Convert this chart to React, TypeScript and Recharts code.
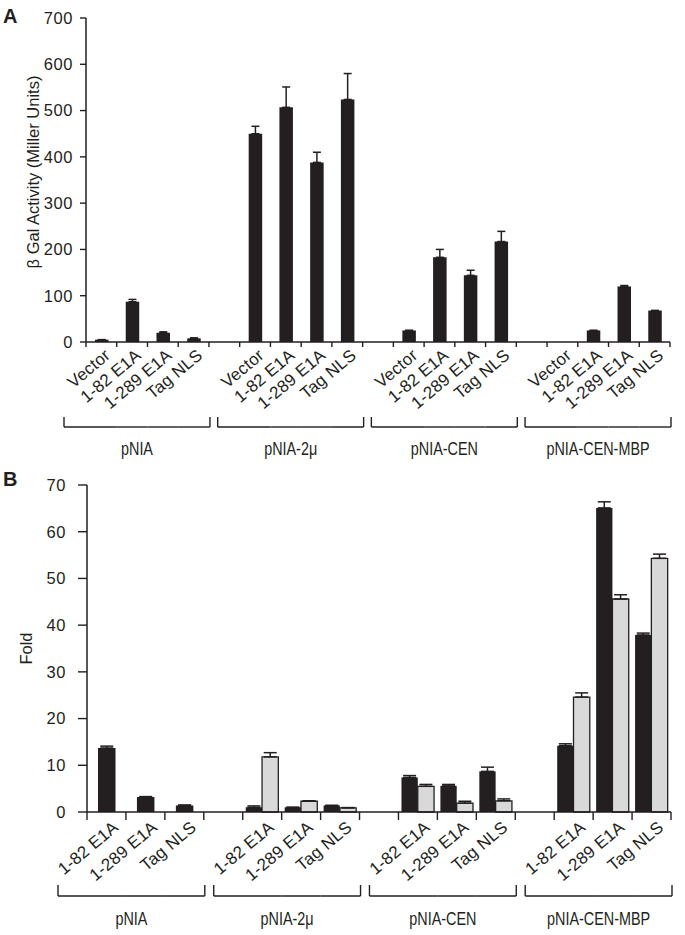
import React from 'react';
import { BarChart, Bar, XAxis, YAxis, ErrorBar } from 'recharts';

// ---------- data ----------
const GROUPS = ['pNIA', 'pNIA-2μ', 'pNIA-CEN', 'pNIA-CEN-MBP'];
const A_CONSTRUCTS = ['Vector', '1-82 E1A', '1-289 E1A', 'Tag NLS'];
const B_CONSTRUCTS = ['1-82 E1A', '1-289 E1A', 'Tag NLS'];
const A_TICKS = [0, 100, 200, 300, 400, 500, 600, 700];
const B_TICKS = [0, 10, 20, 30, 40, 50, 60, 70];

// Panel A: beta-Gal activity (Miller units), per group, per construct
const A_VALUES = [
  [5, 87, 20, 8],
  [450, 507, 388, 524],
  [25, 183, 144, 217],
  [0, 25, 120, 68],
];
const A_ERRORS = [
  [0, 5, 2, 1],
  [16, 44, 22, 56],
  [0, 17, 11, 22],
  [0, 0, 2, 0],
];

// Panel B: fold activation (black and grey series)
const B_BLACK = [
  [13.7, 3.2, 1.4],
  [1.0, 1.0, 1.4],
  [7.4, 5.6, 8.7],
  [14.2, 65.1, 37.9],
];
const B_BLACK_ERR = [
  [0.4, 0.1, 0.1],
  [0.3, 0, 0],
  [0.4, 0.3, 0.9],
  [0.4, 1.3, 0.4],
];
const B_GRAY: (number | null)[][] = [
  [null, null, null],
  [11.8, 2.3, 0.9],
  [5.5, 1.9, 2.4],
  [24.6, 45.6, 54.3],
];
const B_GRAY_ERR: (number | null)[][] = [
  [null, null, null],
  [0.9, 0.1, 0.05],
  [0.4, 0.4, 0.4],
  [0.9, 0.9, 0.9],
];

// ---------- build rows ----------
type Row = { slot: string; label: string; group: string; ci: number; [k: string]: any };

const rowsA: Row[] = [];
GROUPS.forEach((g, gi) => {
  A_CONSTRUCTS.forEach((c, ci) => {
    rowsA.push({ slot: `${g}|${c}`, label: c, group: g, ci, value: A_VALUES[gi][ci], err: [0, A_ERRORS[gi][ci]] });
  });
  if (gi < GROUPS.length - 1) rowsA.push({ slot: `gap${gi}`, label: '', group: '', ci: -1, value: null, err: null });
});

const rowsB: Row[] = [];
GROUPS.forEach((g, gi) => {
  const hasGray = B_GRAY[gi].some((v) => v !== null);
  B_CONSTRUCTS.forEach((c, ci) => {
    const r: Row = { slot: `${g}|${c}`, label: c, group: g, ci };
    if (hasGray) {
      r.black = B_BLACK[gi][ci];
      r.blackErr = [0, B_BLACK_ERR[gi][ci]];
      r.gray = B_GRAY[gi][ci];
      r.grayErr = [0, B_GRAY_ERR[gi][ci]];
    } else {
      r.single = B_BLACK[gi][ci];
      r.singleErr = [0, B_BLACK_ERR[gi][ci]];
    }
    rowsB.push(r);
  });
  if (gi < GROUPS.length - 1) rowsB.push({ slot: `gap${gi}`, label: '', group: '', ci: -1 });
});

// ---------- styling ----------
const INK = '#231f20';
const FONT = "'Liberation Sans', Arial, Helvetica, sans-serif";

type TickCfg = {
  rows: Row[];
  slotW: number;
  groupSize: number;
  ext: number;
  tickLen: number;
  dx: number;
  dy: number;
  bracketTop: number;
  bracketY: number;
  labelY: number;
};

function makeXTick(cfg: TickCfg) {
  return (props: any) => {
    const { x, y, payload } = props;
    const row = cfg.rows.find((r) => r.slot === payload.value);
    const idx = cfg.rows.indexOf(row as Row);
    const half = cfg.slotW / 2;
    const els: React.ReactNode[] = [];
    els.push(<line key="t" x1={x - half} x2={x - half} y1={y} y2={y + cfg.tickLen} stroke={INK} strokeWidth={1.4} />);
    if (idx === cfg.rows.length - 1) {
      els.push(<line key="t2" x1={x + half} x2={x + half} y1={y} y2={y + cfg.tickLen} stroke={INK} strokeWidth={1.4} />);
    }
    if (row && row.label) {
      const tx = x + cfg.dx;
      const ty = y + cfg.dy;
      els.push(
        <text key="l" x={tx} y={ty} textAnchor="end" transform={`rotate(-40 ${tx} ${ty})`}
          fontFamily={FONT} fontSize={17} letterSpacing={0.2} fill={INK}>
          {row.label}
        </text>
      );
      const first = row.ci === 0;
      const last = row.ci === cfg.groupSize - 1;
      const x1 = first ? x - half - cfg.ext : x - half;
      const x2 = last ? x + half + 1 : x + half;
      els.push(<line key="b" x1={x1} x2={x2} y1={y + cfg.bracketY} y2={y + cfg.bracketY} stroke={INK} strokeWidth={1.4} />);
      if (first) {
        els.push(<line key="bl" x1={x1} x2={x1} y1={y + cfg.bracketTop} y2={y + cfg.bracketY} stroke={INK} strokeWidth={1.4} />);
      }
      if (last) {
        els.push(<line key="br" x1={x2} x2={x2} y1={y + cfg.bracketTop} y2={y + cfg.bracketY} stroke={INK} strokeWidth={1.4} />);
        const gStart = x + half - cfg.groupSize * cfg.slotW - cfg.ext;
        const cx = (gStart + x2) / 2;
        const ly = y + cfg.labelY;
        els.push(
          <text key="g" transform={`translate(${cx} ${ly}) scale(0.8 1)`} textAnchor="middle"
            fontFamily={FONT} fontSize={18} fill={INK}>
            {row.group}
          </text>
        );
      }
    }
    return <g>{els}</g>;
  };
}

const yTick = (gap: number) => (props: any) => {
  const { x, y, payload } = props;
  return (
    <text x={x - gap} y={y} dy={5.8} textAnchor="end" fontFamily={FONT} fontSize={16.5} letterSpacing={0.6} fill={INK}>
      {payload.value}
    </text>
  );
};

// ---------- chart geometry ----------
const W = 685;
const A_H = 470;
const A_MARGIN = { top: 18, right: 15, left: 26, bottom: 0 };
const A_PLOT_W = W - A_MARGIN.left - 60 - A_MARGIN.right;
const B_H = 465;
const B_MARGIN = { top: 15, right: 14, left: 27, bottom: 0 };
const B_PLOT_W = W - B_MARGIN.left - 60 - B_MARGIN.right;

const tickA = makeXTick({
  rows: rowsA, slotW: A_PLOT_W / rowsA.length, groupSize: A_CONSTRUCTS.length, ext: 22,
  tickLen: 5, dx: 10, dy: 15, bracketTop: 75, bracketY: 85, labelY: 113,
});
const tickB = makeXTick({
  rows: rowsB, slotW: B_PLOT_W / rowsB.length, groupSize: B_CONSTRUCTS.length, ext: 29,
  tickLen: 8, dx: 13, dy: 17, bracketTop: 73, bracketY: 84, labelY: 113,
});

const yLabelA = (props: any) => {
  const vb = props.viewBox;
  const cx = vb.x + 7;
  const cy = vb.y + vb.height / 2 - 8;
  return (
    <text x={cx} y={cy} transform={`rotate(-90 ${cx} ${cy})`} textAnchor="middle" dominantBaseline="central"
      fontFamily={FONT} fontSize={16.5} fill={INK}>
      β Gal Activity (Miller Units)
    </text>
  );
};
const yLabelB = (props: any) => {
  const vb = props.viewBox;
  const cx = vb.x - 1;
  const cy = vb.y + vb.height / 2;
  return (
    <text x={cx} y={cy} transform={`rotate(-90 ${cx} ${cy})`} textAnchor="middle" dominantBaseline="central"
      fontFamily={FONT} fontSize={16.5} fill={INK}>
      Fold
    </text>
  );
};

export default function App() {
  return (
    <div style={{ position: 'absolute', left: 0, top: 0, width: W, height: 935, background: '#fff' }}>
      <div style={{ position: 'absolute', left: 0, top: 0 }}>
        <BarChart width={W} height={A_H} data={rowsA} margin={A_MARGIN} barGap={0}>
          <XAxis dataKey="slot" type="category" interval={0} height={128} tickSize={0} tickMargin={0}
            tickLine={false} axisLine={{ stroke: INK, strokeWidth: 1.5 }} tick={tickA} />
          <YAxis domain={[0, 700]} ticks={A_TICKS} width={60} tickSize={6} tickMargin={0}
            axisLine={{ stroke: INK, strokeWidth: 1.5 }} tickLine={{ stroke: INK, strokeWidth: 1.4 }}
            tick={yTick(7)} label={{ content: yLabelA } as any} />
          <Bar dataKey="value" fill={INK} barSize={13.5} isAnimationActive={false}>
            <ErrorBar dataKey="err" width={4} stroke={INK} strokeWidth={1.5} direction="y" />
          </Bar>
        </BarChart>
      </div>
      <div style={{ position: 'absolute', left: 0, top: A_H }}>
        <BarChart width={W} height={B_H} data={rowsB} margin={B_MARGIN} barGap={0}>
          <XAxis xAxisId="m" dataKey="slot" type="category" interval={0} height={123} tickSize={0} tickMargin={0}
            tickLine={false} axisLine={{ stroke: INK, strokeWidth: 1.5 }} tick={tickB} />
          <XAxis xAxisId="s" dataKey="slot" type="category" hide />
          <YAxis domain={[0, 70]} ticks={B_TICKS} width={60} tickSize={9} tickMargin={0}
            axisLine={{ stroke: INK, strokeWidth: 1.5 }} tickLine={{ stroke: INK, strokeWidth: 1.4 }}
            tick={yTick(12)} label={{ content: yLabelB } as any} />
          <Bar xAxisId="m" dataKey="black" fill={INK} barSize={16.3} isAnimationActive={false}>
            <ErrorBar dataKey="blackErr" width={6.5} stroke={INK} strokeWidth={1.5} direction="y" />
          </Bar>
          <Bar xAxisId="m" dataKey="gray" fill="#d9d9d9" stroke={INK} strokeWidth={1.3} barSize={16.3} isAnimationActive={false}>
            <ErrorBar dataKey="grayErr" width={6.5} stroke={INK} strokeWidth={1.5} direction="y" />
          </Bar>
          <Bar xAxisId="s" dataKey="single" fill={INK} barSize={17.5} isAnimationActive={false}>
            <ErrorBar dataKey="singleErr" width={6.5} stroke={INK} strokeWidth={1.5} direction="y" />
          </Bar>
        </BarChart>
      </div>
      <svg style={{ position: 'absolute', left: 0, top: 0 }} width={W} height={935} pointerEvents="none">
        <text x={3} y={23} fontFamily={FONT} fontSize={20} fontWeight="bold" fill={INK}>A</text>
        <text x={3} y={486} fontFamily={FONT} fontSize={20} fontWeight="bold" fill={INK}>B</text>
      </svg>
    </div>
  );
}
